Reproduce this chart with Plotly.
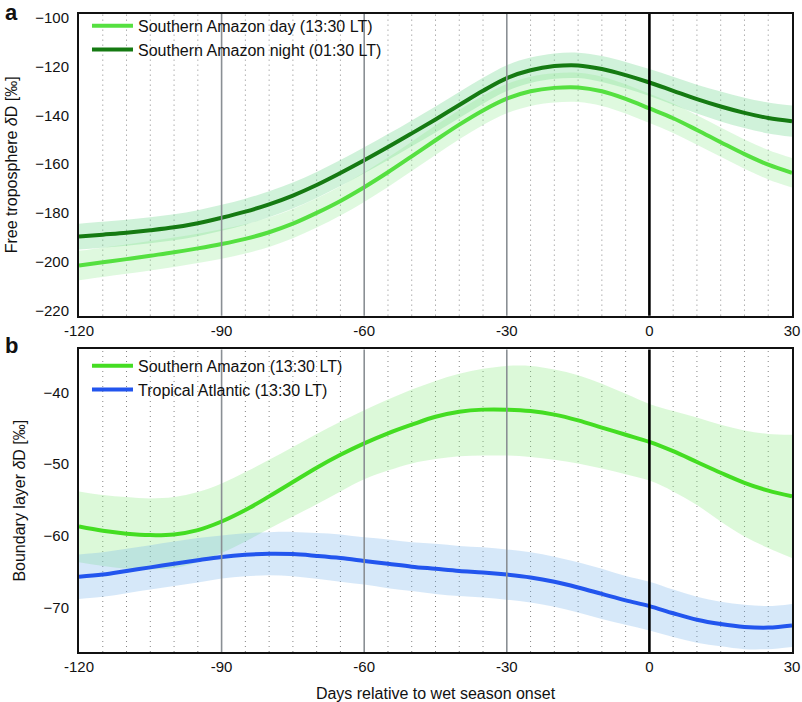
import plotly.graph_objects as go
from plotly.subplots import make_subplots

days = [-120, -115, -110, -105, -100, -95, -90, -85, -80, -75, -70, -65, -60, -55, -50, -45,
        -40, -35, -30, -25, -20, -15, -10, -5, 0, 5, 10, 15, 20, 25, 30]

# Panel a: free troposphere dD
ft_night = [-189.6, -188.8, -188.0, -187.0, -185.8, -184.1, -181.9, -179.4, -176.4, -172.8,
            -168.5, -163.6, -158.4, -153.0, -147.4, -141.7, -135.8, -130.0, -124.8, -121.6,
            -119.9, -119.6, -121.1, -123.6, -126.6, -130.0, -133.4, -136.4, -139.0, -141.1, -142.4]
ft_night_err = [5.3, 5.3, 5.3, 5.3, 5.3, 5.3, 5.3, 5.3, 5.3, 5.3, 5.3, 5.3, 5.3, 5.3, 5.3, 5.3,
                5.3, 5.3, 5.3, 5.2, 5.2, 5.2, 5.3, 5.4, 5.5, 5.7, 5.9, 6.1, 6.2, 6.3, 6.4]
ft_day = [-201.4, -200.1, -198.8, -197.4, -196.0, -194.4, -192.6, -190.5, -187.8, -184.3,
          -179.9, -175.0, -169.4, -163.3, -156.8, -150.2, -143.8, -138.0, -133.2, -130.2,
          -128.8, -128.6, -130.2, -133.3, -137.2, -141.2, -146.0, -151.0, -155.9, -160.2, -163.5]
ft_day_err = [6.0] * 31

# Panel b: boundary layer dD
bl_amz = [-58.7, -59.3, -59.7, -59.9, -59.8, -59.2, -58.0, -56.4, -54.5, -52.5, -50.5, -48.7,
          -47.1, -45.7, -44.5, -43.4, -42.7, -42.4, -42.4, -42.6, -43.1, -43.9, -44.9, -45.9,
          -46.9, -48.2, -49.7, -51.2, -52.6, -53.7, -54.5]
bl_amz_hi = [-53.8, -54.3, -54.6, -54.8, -54.6, -53.9, -52.7, -51.1, -49.4, -47.6, -45.8, -44.1,
             -42.5, -41.0, -39.6, -38.4, -37.4, -36.7, -36.3, -36.3, -36.8, -37.6, -38.8, -40.2,
             -41.6, -42.6, -43.5, -44.5, -45.3, -45.8, -45.9]
bl_amz_lo = [-63.7, -64.2, -64.6, -64.7, -64.5, -63.7, -62.4, -60.8, -59.0, -57.3, -55.6, -53.8,
             -52.1, -50.9, -49.9, -49.3, -48.9, -48.8, -48.8, -49.0, -49.4, -49.9, -50.6, -51.4,
             -52.3, -53.8, -55.7, -58.0, -60.1, -61.7, -63.1]
bl_atl = [-65.7, -65.4, -64.9, -64.4, -63.9, -63.4, -62.95, -62.65, -62.5, -62.55, -62.8, -63.1,
          -63.5, -63.9, -64.3, -64.6, -64.9, -65.1, -65.4, -65.8, -66.4, -67.2, -68.1, -69.0,
          -69.8, -70.8, -71.7, -72.3, -72.7, -72.8, -72.5]
bl_atl_err = [3.1, 3.1, 3.1, 3.1, 3.1, 3.1, 3.0, 3.0, 3.0, 3.1, 3.2, 3.3, 3.3, 3.4, 3.4, 3.5,
              3.5, 3.5, 3.5, 3.5, 3.5, 3.5, 3.5, 3.4, 3.4, 3.3, 3.2, 3.1, 3.1, 3.0, 3.0]

xticks = [-120, -90, -60, -30, 0, 30]
xticklabels = ["-120", "-90", "-60", "-30", "0", "30"]

C_DAY = "#55e040"
C_NIGHT = "#157a12"
C_AMZ = "#44dd22"
C_ATL = "#2255ee"

FONT = "Liberation Sans, Arial, Helvetica, sans-serif"

fig = make_subplots(rows=2, cols=1, shared_xaxes=False, vertical_spacing=0.05)


def band(row, lo, hi, fill):
    fig.add_trace(go.Scatter(x=days, y=lo, mode="lines", line=dict(width=0, shape="spline"),
                             showlegend=False, hoverinfo="skip"), row=row, col=1)
    fig.add_trace(go.Scatter(x=days, y=hi, mode="lines", line=dict(width=0, shape="spline"),
                             fill="tonexty", fillcolor=fill, showlegend=False,
                             hoverinfo="skip"), row=row, col=1)


band(1, [c - e for c, e in zip(ft_night, ft_night_err)],
     [c + e for c, e in zip(ft_night, ft_night_err)], "rgba(110,215,140,0.32)")
band(1, [c - e for c, e in zip(ft_day, ft_day_err)],
     [c + e for c, e in zip(ft_day, ft_day_err)], "rgba(140,235,140,0.28)")
band(2, bl_amz_lo, bl_amz_hi, "rgba(140,235,130,0.30)")
band(2, [c - e for c, e in zip(bl_atl, bl_atl_err)],
     [c + e for c, e in zip(bl_atl, bl_atl_err)], "rgba(120,180,235,0.30)")

fig.add_trace(go.Scatter(x=days, y=ft_day, mode="lines", name="Southern Amazon day (13:30 LT)",
                         line=dict(color=C_DAY, width=4, shape="spline"), legend="legend"),
              row=1, col=1)
fig.add_trace(go.Scatter(x=days, y=ft_night, mode="lines", name="Southern Amazon night (01:30 LT)",
                         line=dict(color=C_NIGHT, width=4, shape="spline"), legend="legend"),
              row=1, col=1)
fig.add_trace(go.Scatter(x=days, y=bl_amz, mode="lines", name="Southern Amazon (13:30 LT)",
                         line=dict(color=C_AMZ, width=4, shape="spline"), legend="legend2"),
              row=2, col=1)
fig.add_trace(go.Scatter(x=days, y=bl_atl, mode="lines", name="Tropical Atlantic (13:30 LT)",
                         line=dict(color=C_ATL, width=4, shape="spline"), legend="legend2"),
              row=2, col=1)

# vertical guide lines
shapes = []
for xr, yr in (("x", "y domain"), ("x2", "y2 domain")):
    for d in range(-115, 30, 5):
        if d % 30 == 0:
            continue
        shapes.append(dict(type="line", xref=xr, yref=yr, x0=d, x1=d, y0=0, y1=1, layer="below",
                           line=dict(color="#858585", width=1, dash="1px,4px")))
    for d in (-90, -60, -30):
        shapes.append(dict(type="line", xref=xr, yref=yr, x0=d, x1=d, y0=0, y1=1, layer="above",
                           line=dict(color="#8a8f94", width=1.6)))
    shapes.append(dict(type="line", xref=xr, yref=yr, x0=0, x1=0, y0=0, y1=1, layer="above",
                       line=dict(color="black", width=2.6)))
fig.update_layout(shapes=shapes)

axis_common = dict(showgrid=False, zeroline=False, showline=True, linecolor="#111", linewidth=2,
                   mirror=True, ticks="", automargin=False, tickfont=dict(size=15, color="#111"))
fig.update_xaxes(range=[-120, 30], tickvals=xticks, ticktext=xticklabels, **axis_common)
fig.update_yaxes(ticklabelstandoff=5, **axis_common)
fig.update_xaxes(title=dict(text="Days relative to wet season onset", font=dict(size=16, color="#111"),
                            standoff=15), row=2, col=1)
fig.update_yaxes(range=[-221.9, -98.6], tickvals=[-220, -200, -180, -160, -140, -120, -100],
                 title=dict(text="Free troposphere <i>δ</i>D [‰]", font=dict(size=16, color="#111"),
                            standoff=14), row=1, col=1)
fig.update_yaxes(range=[-76.2, -34.0], tickvals=[-70, -60, -50, -40],
                 title=dict(text="Boundary layer <i>δ</i>D [‰]", font=dict(size=16, color="#111"),
                            standoff=14), row=2, col=1)

fig.update_layout(
    width=802, height=702,
    margin=dict(l=79, r=10, t=9, b=50),
    plot_bgcolor="white", paper_bgcolor="white",
    font=dict(family=FONT, size=15, color="#111"),
    xaxis=dict(domain=[0, 1]), xaxis2=dict(domain=[0, 1]),
    yaxis=dict(domain=[0.5272, 1.0]),
    yaxis2=dict(domain=[0.0, 0.4743]),
    legend=dict(x=0.0112, y=1.008, xanchor="left", yanchor="top", bgcolor="rgba(0,0,0,0)",
                traceorder="normal", itemwidth=41, font=dict(size=16, color="#111"),
                tracegroupgap=0),
    legend2=dict(x=0.0112, y=0.4751, xanchor="left", yanchor="top", bgcolor="rgba(0,0,0,0)",
                 traceorder="normal", itemwidth=41, font=dict(size=16, color="#111"),
                 tracegroupgap=0),
)
fig.add_annotation(text="<b>a</b>", x=-0.094, y=1.003, xref="paper", yref="paper",
                   xanchor="center", yanchor="middle", showarrow=False,
                   font=dict(size=22, color="#111"))
fig.add_annotation(text="<b>b</b>", x=-0.094, y=0.4805, xref="paper", yref="paper",
                   xanchor="center", yanchor="middle", showarrow=False,
                   font=dict(size=22, color="#111"))

fig.write_html("out.html", config={"displayModeBar": False},
               post_script="document.body.style.margin='0';")
